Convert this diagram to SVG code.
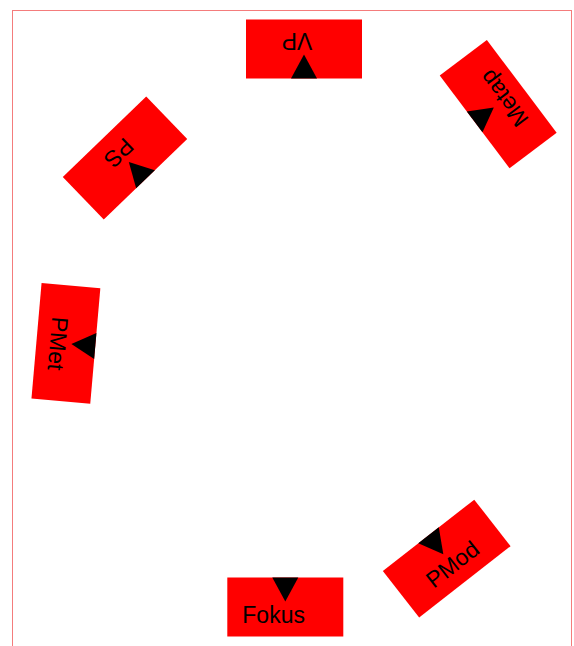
<svg xmlns="http://www.w3.org/2000/svg" width="574" height="646" viewBox="0 0 574 646">
  <style>
    .box { fill: #ff0000; }
    .tri { fill: #000000; }
    .lbl { font-family: "Liberation Sans", Arial, sans-serif; font-size: 23px; fill: #000000; }
  </style>
  <defs>
    <rect id="boxShape" class="box" x="-58" y="-29.5" width="116" height="59"/>
    <polygon id="triShape" class="tri" points="-13,-29.5 13,-29.5 0,-5.5"/>
  </defs>
  <rect x="12.5" y="10.5" width="559" height="700" fill="none" stroke="#f47c7c" stroke-width="1"/>
  <g id="connectors"></g>
  <g id="node-vp" transform="translate(304,49) rotate(180)">
    <use href="#boxShape"/>
    <use href="#triShape"/>
    <text class="lbl" x="7" y="16" text-anchor="middle">VP</text>
  </g>
  <g id="node-metap" transform="translate(498.2,104.1) rotate(-127)">
    <use href="#boxShape"/>
    <use href="#triShape"/>
    <text class="lbl" x="1" y="16" text-anchor="middle">Metap</text>
  </g>
  <g id="node-ps" transform="translate(125,158) rotate(136)">
    <use href="#boxShape"/>
    <use href="#triShape"/>
    <text class="lbl" x="1" y="16" text-anchor="middle">PS</text>
  </g>
  <g id="node-pmet" transform="translate(65.9,343.4) rotate(95)">
    <use href="#boxShape"/>
    <use href="#triShape"/>
    <text class="lbl" x="1" y="16" text-anchor="middle">PMet</text>
  </g>
  <g id="node-pmod" transform="translate(446.7,558.6) rotate(-38)">
    <use href="#boxShape"/>
    <use href="#triShape"/>
    <text class="lbl" x="1" y="16" text-anchor="middle">PMod</text>
  </g>
  <g id="node-fokus" transform="translate(285.3,607) rotate(0)">
    <use href="#boxShape"/>
    <use href="#triShape"/>
    <text class="lbl" x="-43" y="16">Fokus</text>
  </g>
</svg>
